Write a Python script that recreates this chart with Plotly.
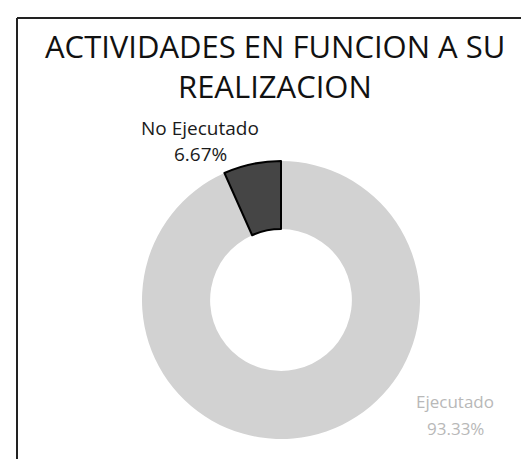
import plotly.graph_objects as go

title_lines = ["ACTIVIDADES EN FUNCION A SU", "REALIZACION"]
categories = ["Ejecutado", "No Ejecutado"]
values = [93.33, 6.67]
colors = ["#d2d2d2", "#454545"]

W, H = 529, 459
cx, cy, r = 273, 292, 139

fig = go.Figure()
fig.add_trace(go.Pie(
    labels=categories,
    values=values,
    sort=False,
    direction="clockwise",
    rotation=0,
    hole=0.51,
    textinfo="none",
    hoverinfo="label+percent",
    showlegend=False,
    marker=dict(colors=colors, line=dict(color=["rgba(0,0,0,0)", "#000000"], width=[0, 2])),
    domain=dict(x=[(cx - r) / W, (cx + r) / W], y=[(H - cy - r) / H, (H - cy + r) / H]),
))

font_family = "Open Sans, Noto Sans, sans-serif"
anns = [
    dict(text=title_lines[0], x=267 / W, y=1 - 38 / H, font=dict(size=31, color="#111111")),
    dict(text=title_lines[1], x=267 / W, y=1 - 78 / H, font=dict(size=31, color="#111111")),
    dict(text=categories[1], x=192 / W, y=1 - 120 / H, font=dict(size=19, color="#1a1a1a")),
    dict(text=f"{values[1]:.2f}%", x=192 / W, y=1 - 146 / H, font=dict(size=19, color="#1a1a1a")),
    dict(text=categories[0], x=447 / W, y=1 - 393 / H, font=dict(size=17, color="#b8b8b8")),
    dict(text=f"{values[0]:.2f}%", x=447 / W, y=1 - 420 / H, font=dict(size=17, color="#b8b8b8")),
]
for a in anns:
    a.update(xref="paper", yref="paper", showarrow=False, xanchor="center", yanchor="middle")
    a["font"]["family"] = font_family

fig.update_layout(
    width=W, height=H,
    margin=dict(l=0, r=0, t=0, b=0),
    paper_bgcolor="white", plot_bgcolor="white",
    annotations=anns,
    shapes=[
        dict(type="line", xref="paper", yref="paper", x0=9 / W, x1=1, y0=1 - 10 / H, y1=1 - 10 / H,
             line=dict(color="#222222", width=2)),
        dict(type="line", xref="paper", yref="paper", x0=9 / W, x1=9 / W, y0=0, y1=1 - 10 / H,
             line=dict(color="#222222", width=2)),
    ],
)

fig.write_html("out.html")
